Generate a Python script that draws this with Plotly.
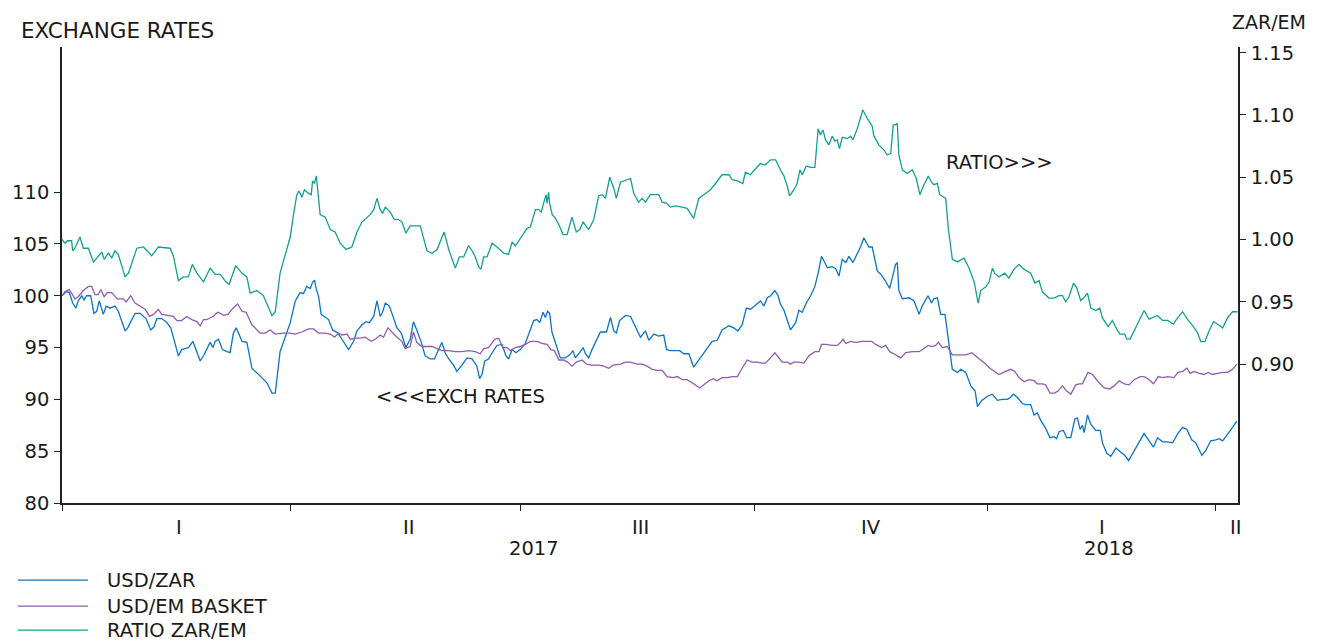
import plotly.graph_objects as go
import pandas as pd

# ---------------- data (x = days since 2017-01-01) ----------------
START = "2017-01-01"

zar_day = [0, 1.8, 2.9, 4.2, 5.5, 6.4, 7.8, 8.7, 9.7, 11.3, 12.6, 13.7, 14.7, 16.3, 17.4, 18.9, 20.9, 22.2,
           24.9, 25.9, 28.8, 30.8, 33.1, 35.0, 36.3, 37.4, 39.3, 41.0, 42.9, 44.6, 45.9, 47.2, 49.9, 51.6,
           53.2, 54.5, 56.0, 58.4, 59.5, 60.4, 61.7, 63.3, 65.0, 66.3, 67.6, 68.7, 71.0, 72.9, 74.9, 76.8,
           78.8, 80.8, 82.8, 84.1, 86.0, 90.0, 92.0, 93.9, 95.2, 96.5, 97.9, 98.8, 99.6, 100.2, 101.2, 102.2,
           104.1, 105.1, 106.7, 108.8, 110.4, 111.4, 113.0, 115.0, 116.3, 118.3, 119.8, 121.2, 122.9, 124.2,
           125.5, 126.4, 127.5, 129.1, 130.8, 132.1, 133.8, 135.6, 137.3, 138.6, 139.9, 141.7, 143.2, 145.2,
           146.9, 148.5, 149.8, 151.1, 152.5, 154.4, 155.7, 157.7, 159.7, 161.7, 163.6, 164.7, 165.6, 166.7,
           168.2, 169.6, 171.5, 173.5, 175.1, 176.1, 177.5, 179.0, 180.7, 182.7, 184.0, 186.0, 187.3, 188.4,
           189.7, 190.6, 191.5, 192.3, 193.2, 194.6, 196.5, 198.5, 200.2, 201.5, 202.4, 203.8, 205.5, 206.4,
           207.7, 209.0, 210.3, 212.3, 214.7, 216.3, 217.6, 218.6, 219.9, 222.2, 224.2, 226.1, 228.1, 230.1,
           231.4, 233.4, 235.3, 237.3, 238.4, 239.9, 241.9, 243.6, 245.2, 247.2, 249.1, 251.1, 253.8, 256.4,
           258.4, 260.3, 263.0, 264.9, 266.5, 268.2, 269.9, 271.5, 273.1, 275.4, 276.8, 278.1, 279.4, 281.1,
           282.4, 283.3, 284.7, 286.0, 287.3, 289.3, 290.6, 291.9, 293.5, 295.2, 296.9, 298.2, 299.5, 300.4,
           301.8, 303.7, 305.1, 306.4, 307.7, 309.1, 310.3, 311.9, 313.6, 314.9, 316.2, 318.2, 319.5, 321.5,
           322.8, 324.5, 326.4, 327.8, 328.7, 329.4, 330.0, 331.4, 334.0, 336.0, 338.0, 339.2, 341.5, 342.9,
           343.8, 345.2, 346.5, 348.2, 349.8, 351.1, 353.1, 354.4, 356.4, 358.4, 360.1, 361.0, 362.7, 365.0,
           366.9, 368.9, 370.8, 372.8, 374.1, 375.2, 376.7, 378.7, 380.0, 382.0, 383.3, 384.6, 385.9, 387.9,
           389.6, 391.2, 392.2, 393.2, 394.9, 396.2, 397.8, 399.4, 400.4, 401.5, 402.4, 403.1, 404.4, 405.7,
           407.7, 409.4, 410.3, 412.0, 413.6, 415.6, 417.5, 419.1, 420.6, 422.8, 424.8, 426.7, 428.7, 430.4,
           432.0, 434.0, 436.0, 438.0, 440.0, 441.9, 443.6, 445.5, 447.1, 448.5, 449.5, 451.1, 453.0, 455.0,
           456.3, 457.7, 459.6, 461.6, 463.3]
zar_val = [100.0, 100.4, 100.3, 99.3, 98.8, 99.5, 100.0, 99.6, 100.0, 100.0, 98.3, 98.5, 99.5, 98.2, 99.0, 98.8, 99.0, 98.5,
           96.6, 96.9, 98.3, 98.3, 97.8, 96.7, 97.0, 97.8, 97.8, 97.5, 96.9, 95.5, 94.2, 94.8, 95.0, 95.6,
           94.6, 93.7, 94.3, 95.5, 95.0, 95.6, 95.8, 94.8, 94.6, 94.5, 96.4, 96.9, 95.6, 95.5, 93.0, 92.6,
           92.1, 91.6, 90.6, 90.6, 94.6, 97.4, 99.5, 100.3, 100.2, 100.9, 100.7, 101.3, 101.5, 100.7, 99.9, 98.2,
           97.9, 97.7, 96.7, 96.4, 95.8, 95.4, 94.8, 95.6, 96.6, 97.2, 97.5, 97.4, 98.0, 99.5,
           98.0, 98.4, 99.3, 99.0, 97.7, 96.9, 96.4, 95.0, 95.8, 97.5, 96.7, 95.5, 94.2, 93.9,
           93.9, 94.8, 95.5, 94.5, 93.9, 93.3, 92.7, 93.3, 94.0, 93.9, 93.2, 92.0, 92.4, 93.7,
           93.9, 94.5, 95.2, 95.3, 94.2, 93.9, 94.8, 94.5, 94.8, 95.4, 96.3, 97.6, 97.7, 97.4,
           98.4, 97.9, 98.5, 98.3, 96.5, 95.5, 94.0, 94.0, 94.3, 94.7, 94.0, 94.4, 95.0, 94.4,
           94.0, 94.8, 95.5, 96.5, 96.5, 97.9, 96.6, 96.4, 97.6, 98.1, 98.0, 97.1, 96.0, 96.6,
           95.7, 96.3, 96.1, 96.2, 94.8, 94.7, 94.7, 94.7, 94.4, 94.4, 93.1, 93.8, 94.7, 95.6,
           95.7, 96.7, 97.1, 96.9, 96.6, 97.2, 98.8, 98.7, 99.0, 99.5, 99.0, 99.8, 100.0, 100.5,
           100.0, 99.2, 98.6, 97.6, 96.7, 97.4, 98.6, 98.4, 99.3, 100.0, 100.9, 102.2, 103.8, 103.4,
           102.7, 102.8, 102.6, 101.9, 103.5, 103.2, 103.8, 103.2, 104.1, 104.7, 105.6, 104.7, 104.7, 102.4,
           102.1, 101.5, 100.7, 102.1, 103.0, 103.2, 100.5, 99.7, 99.8, 99.5, 98.2, 99.0, 100.0, 99.3,
           99.7, 99.8, 98.2, 98.2, 95.1, 92.9, 92.6, 92.9, 92.6, 91.3, 90.8, 89.3, 89.9, 90.3,
           90.5, 89.9, 90.0, 90.0, 90.2, 90.5, 90.2, 89.6, 89.5, 89.5, 88.5, 88.7, 88.0, 87.2,
           86.3, 86.4, 86.2, 86.9, 87.0, 86.3, 86.3, 88.1, 88.2, 87.1, 87.5, 86.8, 88.5, 87.6,
           87.0, 87.0, 85.8, 84.8, 84.5, 85.3, 84.9, 84.6, 84.1, 85.0, 85.9, 86.7, 86.0, 85.4,
           86.3, 85.9, 85.9, 85.8, 86.7, 87.3, 87.1, 86.1, 85.8, 85.1, 84.6, 85.1, 86.0, 86.1,
           86.2, 86.0, 86.6, 87.3, 87.9]

em_day = [0, 1.2, 2.9, 4.5, 5.1, 6.4, 8.4, 10.4, 11.7, 13.0, 14.3, 15.3, 16.6, 17.9, 19.6, 21.8, 24.2, 25.3,
          27.1, 28.8, 30.8, 32.8, 34.5, 36.1, 38.0, 39.3, 41.6, 43.9, 45.3, 47.2, 49.2, 51.2, 53.2, 54.5,
          55.8, 57.1, 58.7, 59.7, 60.8, 61.7, 63.7, 65.4, 67.4, 69.2, 71.0, 72.6, 74.9, 76.8, 78.1, 80.1,
          82.1, 84.1, 86.0, 87.4, 90.0, 91.9, 94.6, 97.2, 99.2, 101.2, 103.8, 105.8, 107.5, 109.1, 110.4,
          112.4, 113.7, 115.6, 117.6, 119.6, 121.9, 123.5, 125.5, 126.8, 128.5, 130.3, 132.1, 134.0, 135.3,
          137.3, 138.6, 139.9, 141.9, 143.9, 145.9, 147.8, 149.8, 152.5, 155.1, 157.7, 160.3, 163.0, 164.9,
          166.3, 168.2, 170.6, 172.2, 173.8, 175.5, 176.8, 178.8, 180.7, 182.7, 184.7, 187.3, 189.3, 191.3,
          192.8, 194.2, 195.9, 197.8, 199.4, 201.1, 202.8, 205.1, 206.8, 209.0, 211.7, 213.6, 215.6, 217.3,
          220.2, 222.2, 224.2, 226.8, 228.8, 230.7, 232.7, 234.7, 236.7, 238.6, 241.0, 242.6, 244.6, 246.5,
          249.1, 251.5, 253.1, 255.1, 256.8, 258.4, 260.3, 262.3, 264.3, 266.3, 268.2, 270.2, 272.1, 274.1,
          276.1, 277.4, 279.4, 281.1, 282.7, 284.0, 286.0, 287.3, 288.6, 290.6, 292.6, 294.5, 296.9, 298.5,
          299.5, 301.1, 303.7, 305.7, 307.1, 308.0, 309.1, 311.0, 313.0, 315.6, 317.6, 319.3, 320.9, 323.2,
          324.8, 326.4, 328.7, 330.7, 332.7, 335.3, 338.0, 339.2, 341.6, 343.2, 344.5, 345.6, 347.2, 349.1,
          351.1, 353.7, 356.4, 358.8, 360.4, 362.3, 364.3, 365.9, 367.6, 369.5, 372.1, 374.1, 375.7, 377.4,
          379.4, 381.3, 383.3, 384.6, 386.6, 387.9, 389.6, 391.4, 392.8, 394.5, 396.2, 397.8, 399.8, 401.1,
          402.4, 404.6, 406.4, 408.6, 411.0, 413.0, 414.9, 416.9, 418.9, 420.8, 422.8, 425.2, 426.7, 428.7,
          430.4, 432.3, 434.0, 436.0, 438.4, 440.2, 441.9, 443.6, 444.9, 446.5, 448.5, 450.4, 452.0, 453.7,
          455.7, 457.7, 459.6, 461.6, 463.3]
em_val = [100.0, 100.4, 100.6, 100.0, 99.7, 99.9, 100.5, 100.9, 100.9, 100.1, 100.1, 100.6, 99.9, 100.3, 100.3, 99.7, 99.7, 99.4,
          100.0, 99.3, 99.0, 98.7, 98.0, 98.2, 98.7, 98.2, 98.1, 98.0, 97.6, 97.6, 98.0, 97.7, 97.5, 97.1,
          97.7, 97.7, 97.9, 98.0, 98.3, 98.4, 98.1, 98.2, 98.8, 99.2, 98.5, 98.4, 97.2, 96.7, 96.4, 96.4,
          96.7, 96.3, 96.4, 96.4, 96.4, 96.3, 96.5, 96.8, 96.8, 96.4, 96.4, 96.3, 96.0, 96.4, 96.2,
          96.3, 95.8, 95.9, 95.9, 96.0, 95.6, 95.8, 96.2, 96.0, 96.9, 96.4, 96.0, 95.6, 94.9,
          95.1, 96.5, 95.5, 95.1, 95.1, 95.1, 94.9, 94.7, 94.7, 94.6, 94.6, 94.7, 94.6, 94.4,
          94.9, 95.0, 95.8, 95.9, 95.0, 95.0, 94.7, 95.0, 95.1, 95.3, 95.6, 95.6, 95.4, 95.3,
          94.8, 94.7, 93.8, 93.8, 93.6, 93.2, 93.6, 93.8, 93.4, 93.3, 93.3, 93.2, 93.0, 93.3,
          93.4, 93.6, 93.6, 93.4, 93.4, 93.2, 92.9, 92.8, 92.8, 92.2, 92.1, 92.2, 91.9, 91.9,
          91.5, 91.1, 91.4, 91.8, 92.0, 91.8, 92.1, 92.1, 92.2, 92.2, 93.0, 93.8, 93.6, 93.6,
          93.5, 93.5, 94.0, 94.5, 94.0, 93.6, 93.6, 93.4, 93.6, 93.6, 93.5, 94.2, 94.6, 94.6,
          95.3, 95.3, 95.2, 95.2, 95.5, 95.8, 95.4, 95.6, 95.5, 95.6, 95.6, 95.6, 95.3, 95.0,
          95.2, 94.6, 94.3, 94.0, 94.5, 94.6, 94.6, 94.8, 95.2, 95.1, 95.2, 95.5, 95.0, 95.1,
          94.3, 94.3, 94.3, 94.5, 94.2, 93.8, 93.4, 93.0, 92.7, 92.4, 92.7, 92.9, 92.7, 92.1,
          91.7, 91.9, 91.8, 91.5, 91.5, 91.4, 90.6, 90.6, 90.8, 91.3, 90.8, 90.5, 91.4, 91.5,
          91.5, 92.6, 92.4, 91.7, 91.1, 91.0, 91.3, 91.8, 91.5, 91.4, 91.9, 92.2, 92.2, 91.9,
          91.5, 92.2, 92.1, 92.2, 92.1, 92.6, 92.7, 93.0, 92.5, 92.7, 92.5, 92.4, 92.6, 92.4,
          92.5, 92.6, 92.6, 92.9, 93.4]

ratio_day = [0, 1.2, 2.1, 3.8, 4.2, 5.1, 7.1, 8.4, 10.4, 12.4, 13.7, 15.7, 16.6, 18.3, 19.6, 20.9, 22.2, 24.9,
             26.2, 29.5, 32.1, 35.4, 38.0, 42.6, 43.9, 45.9, 47.9, 49.8, 51.4, 53.2, 55.8, 58.4, 60.4, 62.4,
             64.6, 65.9, 68.5, 70.9, 72.9, 74.2, 76.8, 79.4, 82.8, 84.1, 86.0, 90.0, 91.3, 92.6, 93.5, 94.6,
             95.6, 97.2, 98.3, 98.8, 99.5, 100.3, 101.8, 103.8, 105.8, 107.7, 109.7, 112.0, 114.3, 116.3, 118.3,
             121.5, 122.9, 124.2, 125.5, 126.4, 127.5, 129.4, 131.1, 132.7, 134.1, 135.6, 137.3, 141.3, 143.9,
             145.9, 147.9, 150.7, 152.5, 155.1, 156.7, 158.4, 160.3, 161.7, 163.0, 164.3, 165.2, 166.3, 167.6,
             169.6, 171.5, 174.2, 176.1, 177.5, 178.8, 180.7, 183.4, 184.7, 186.7, 188.0, 189.0, 189.9, 190.9,
             191.3, 191.9, 192.3, 193.3, 194.6, 195.9, 197.6, 199.2, 201.1, 202.8, 204.2, 205.5, 207.7, 209.7,
             211.6, 213.0, 214.3, 216.0, 217.6, 218.6, 220.2, 223.5, 224.2, 225.5, 227.4, 228.8, 230.1, 232.0,
             233.6, 235.3, 236.7, 238.4, 239.9, 241.9, 244.6, 246.5, 249.1, 251.1, 253.1, 255.7, 257.7, 260.3,
             263.0, 264.3, 266.3, 268.5, 269.5, 271.5, 273.1, 275.4, 276.8, 277.4, 279.4, 281.4, 283.3, 284.7,
             286.0, 286.9, 288.6, 289.9, 291.0, 291.9, 293.5, 295.2, 296.9, 298.2, 299.1, 300.1, 301.1, 302.4,
             303.7, 304.8, 305.7, 306.6, 307.7, 309.7, 311.0, 311.9, 313.6, 315.8, 317.6, 319.5, 320.2, 322.1,
             324.1, 325.4, 326.8, 327.8, 328.4, 329.4, 330.0, 331.4, 333.3, 335.3, 336.9, 338.3, 339.9, 341.6,
             342.9, 343.8, 345.2, 346.1, 348.5, 349.5, 351.1, 353.1, 355.7, 357.7, 359.7, 361.3, 362.3, 364.3,
             365.6, 366.9, 367.8, 369.5, 371.7, 373.4, 375.4, 377.4, 379.4, 382.0, 383.7, 385.3, 386.6, 389.2,
             391.2, 393.2, 394.5, 395.8, 397.1, 398.9, 400.2, 401.7, 402.8, 404.4, 405.7, 407.7, 409.2, 410.3,
             412.5, 414.2, 416.2, 417.2, 419.1, 419.9, 421.2, 423.4, 426.7, 428.7, 430.0, 432.0, 434.0, 436.0,
             438.3, 439.9, 441.9, 443.8, 445.8, 447.8, 449.1, 450.7, 452.4, 454.1, 455.7, 457.7, 459.6, 461.6,
             463.6]
ratio_val = [1.000, 0.997, 0.999, 0.999, 0.991, 0.993, 1.002, 0.993, 0.993, 0.982, 0.985, 0.990, 0.984, 0.989, 0.985, 0.991, 0.988, 0.970,
             0.973, 0.993, 0.994, 0.987, 0.994, 0.993, 0.987, 0.967, 0.970, 0.970, 0.980, 0.973, 0.966, 0.977, 0.972, 0.972,
             0.966, 0.964, 0.979, 0.973, 0.970, 0.957, 0.959, 0.955, 0.939, 0.942, 0.973, 1.002, 1.020, 1.036, 1.039, 1.034,
             1.040, 1.037, 1.036, 1.047, 1.045, 1.051, 1.020, 1.018, 1.008, 1.006, 0.997, 0.992, 0.994, 1.006, 1.014,
             1.020, 1.024, 1.033, 1.024, 1.021, 1.026, 1.022, 1.016, 1.016, 1.014, 1.005, 1.011, 1.011, 0.991,
             0.989, 0.992, 1.006, 0.992, 0.977, 0.986, 0.986, 0.995, 0.991, 0.986, 0.978, 0.976, 0.986, 0.986,
             0.997, 0.994, 0.989, 0.988, 0.998, 0.995, 1.001, 1.009, 1.010, 1.024, 1.024, 1.022, 1.029, 1.036,
             1.029, 1.038, 1.029, 1.020, 1.017, 1.012, 1.004, 1.004, 1.018, 1.006, 1.008, 1.014, 1.008, 1.016,
             1.035, 1.036, 1.033, 1.050, 1.041, 1.033, 1.046, 1.048, 1.049, 1.037, 1.030, 1.033, 1.030, 1.036,
             1.036, 1.036, 1.030, 1.029, 1.026, 1.027, 1.026, 1.025, 1.017, 1.033, 1.036, 1.040, 1.045, 1.052,
             1.052, 1.048, 1.047, 1.045, 1.054, 1.052, 1.056, 1.061, 1.060, 1.060, 1.064, 1.064, 1.056, 1.051,
             1.043, 1.035, 1.040, 1.045, 1.056, 1.052, 1.059, 1.058, 1.058, 1.089, 1.084, 1.088, 1.080, 1.076,
             1.083, 1.079, 1.080, 1.073, 1.082, 1.081, 1.083, 1.080, 1.089, 1.104, 1.097, 1.091, 1.083, 1.076,
             1.072, 1.068, 1.069, 1.092, 1.092, 1.093, 1.068, 1.056, 1.053, 1.056, 1.049, 1.036, 1.044, 1.051,
             1.046, 1.044, 1.045, 1.036, 1.033, 1.009, 0.984, 0.982, 0.985, 0.977, 0.966, 0.949, 0.959, 0.962,
             0.966, 0.977, 0.973, 0.970, 0.973, 0.969, 0.976, 0.980, 0.976, 0.973, 0.965, 0.967, 0.958, 0.953,
             0.953, 0.955, 0.955, 0.950, 0.954, 0.965, 0.961, 0.951, 0.953, 0.957, 0.945, 0.943, 0.945, 0.937,
             0.930, 0.935, 0.927, 0.924, 0.924, 0.920, 0.920, 0.929, 0.943, 0.936, 0.937, 0.939, 0.935, 0.935,
             0.932, 0.937, 0.942, 0.936, 0.931, 0.925, 0.918, 0.918, 0.927, 0.934, 0.932, 0.929, 0.937, 0.942,
             0.942]

series_names = ["USD/ZAR", "USD/EM BASKET", "RATIO ZAR/EM"]
series_colors = ["#0a74c9", "#8f5cae", "#13a092"]

quarter_ticks = ["2017-01-01", "2017-04-01", "2017-07-01", "2017-10-01", "2018-01-01", "2018-04-01"]
quarter_labels = ["I", "II", "III", "IV", "I", "II"]
quarter_label_dates = ["2017-02-16", "2017-05-18", "2017-08-17", "2017-11-16", "2018-02-15", "2018-04-09"]
year_labels = ["2017", "2018"]
year_label_dates = ["2017-07-06", "2018-02-18"]
left_ticks = [80, 85, 90, 95, 100, 105, 110]
right_ticks = [0.90, 0.95, 1.00, 1.05, 1.10, 1.15]


def to_dates(days):
    return pd.Timestamp(START) + pd.to_timedelta(pd.Series(days), unit="D")


FONT = "DejaVu Sans"
TXT = "#1a1a1a"
FS = 19.5

fig = go.Figure()
fig.add_trace(go.Scatter(x=to_dates(zar_day), y=zar_val, name=series_names[0], mode="lines",
                         line=dict(color=series_colors[0], width=1.3), yaxis="y"))
fig.add_trace(go.Scatter(x=to_dates(em_day), y=em_val, name=series_names[1], mode="lines",
                         line=dict(color=series_colors[1], width=1.3), yaxis="y"))
fig.add_trace(go.Scatter(x=to_dates(ratio_day), y=ratio_val, name=series_names[2], mode="lines",
                         line=dict(color=series_colors[2], width=1.3), yaxis="y2"))

annotations = []
for d, t in zip(quarter_label_dates, quarter_labels):
    annotations.append(dict(x=d, y=-0.053, xref="x", yref="paper", text=t, showarrow=False,
                            xanchor="center", yanchor="middle", font=dict(size=FS, color=TXT, family=FONT)))
for d, t in zip(year_label_dates, year_labels):
    annotations.append(dict(x=d, y=-0.099, xref="x", yref="paper", text=t, showarrow=False,
                            xanchor="center", yanchor="middle", font=dict(size=FS, color=TXT, family=FONT)))

annotations += [
    dict(x=-0.0365, y=1.037, xref="paper", yref="paper", text="EXCHANGE RATES", showarrow=False,
         xanchor="left", yanchor="middle", font=dict(size=21.5, color=TXT, family=FONT)),
    dict(x=0.993, y=1.055, xref="paper", yref="paper", text="ZAR/EM", showarrow=False,
         xanchor="left", yanchor="middle", font=dict(size=19, color=TXT, family=FONT)),
    dict(x="2017-05-04", y=90.3, xref="x", yref="y", text="<<<EXCH RATES", showarrow=False,
         xanchor="left", yanchor="middle", font=dict(size=FS, color=TXT, family=FONT)),
    dict(x="2017-12-15", y=1.062, xref="x", yref="y2", text="RATIO>>>", showarrow=False,
         xanchor="left", yanchor="middle", font=dict(size=FS, color=TXT, family=FONT)),
]

# manual legend
shapes = []
legend_y = [-0.169, -0.226, -0.279]
for yy, name, col in zip(legend_y, series_names, series_colors):
    shapes.append(dict(type="line", xref="paper", yref="paper", x0=-0.0374, x1=0.0221, y0=yy, y1=yy,
                       line=dict(color=col, width=1.3)))
    annotations.append(dict(x=0.0366, y=yy, xref="paper", yref="paper", text=name, showarrow=False,
                            xanchor="left", yanchor="middle", font=dict(size=FS, color=TXT, family=FONT)))

axis_col = "#222222"
# page body has an 8px margin: figure is 8px smaller on each axis, margins shifted accordingly
fig.update_layout(
    width=1322, height=635,
    margin=dict(l=54, r=92, t=39, b=140, autoexpand=False),
    paper_bgcolor="white", plot_bgcolor="white",
    showlegend=False,
    font=dict(family=FONT, size=FS, color=TXT),
    xaxis=dict(type="date", range=["2017-01-01", "2018-04-09 18:00"], showgrid=False, zeroline=False,
               showline=True, linecolor=axis_col, linewidth=1.5, ticks="outside", ticklen=6,
               tickwidth=1.3, tickcolor=axis_col, tickvals=quarter_ticks, showticklabels=False,
               automargin=False),
    yaxis=dict(range=[80, 124], showgrid=False, zeroline=False, showline=True, linecolor=axis_col,
               linewidth=1.5, ticks="outside", ticklen=6, tickwidth=1.3, tickcolor=axis_col,
               tickvals=left_ticks, ticktext=[str(v) for v in left_ticks], ticklabelstandoff=1,
               tickfont=dict(size=FS, color=TXT, family=FONT), automargin=False),
    yaxis2=dict(range=[0.7884, 1.1546], overlaying="y", side="right", showgrid=False, zeroline=False,
                showline=True, linecolor=axis_col, linewidth=1.5, ticks="outside", ticklen=6,
                tickwidth=1.3, tickcolor=axis_col, tickvals=right_ticks,
                ticktext=[f"{v:.2f}" for v in right_ticks], ticklabelstandoff=1,
                tickfont=dict(size=FS, color=TXT, family=FONT), automargin=False),
    annotations=annotations,
    shapes=shapes,
)

fig.write_html("out.html")
